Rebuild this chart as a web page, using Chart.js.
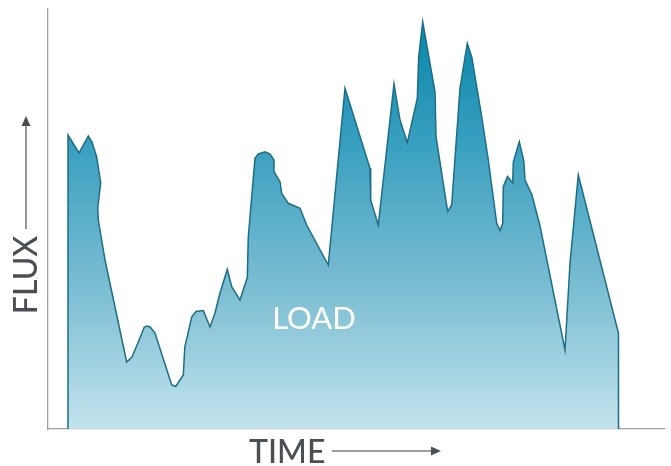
<!DOCTYPE html>
<html>
<head>
<meta charset="utf-8">
<script src="https://cdn.jsdelivr.net/npm/chart.js@4/dist/chart.umd.min.js"></script>
<style>
html,body{margin:0;padding:0;background:#fff;}
#wrap{position:relative;width:671px;height:466px;}
</style>
</head>
<body>
<div id="wrap"><canvas id="c" width="671" height="466"></canvas></div>
<script>
// time positions (arbitrary units) and flux values (arbitrary units)
const time = [20,20,31,40.3,44,48.7,52.7,49.7,50.3,57,78.7,84,90.3,96.3,99,102,107,123.7,127.7,135.3,136.8,143.7,148,155.3,162,167,172,179.3,183.7,192,199.3,200.3,207,210.3,217,222,226,226,232,233.7,240.3,252,258.7,280.3,297,322,322.7,330.3,346,352,359.3,369.3,370.7,374.7,387,388,399.7,403.7,412,419.3,423.7,433.7,440.3,448.7,452,454.7,455.3,459.5,464.7,465.3,471.3,475.8,477,484,492,517,522,530.3,570.5,570.5];
const flux = [0,294,276,293,287,272,246,221,209,169,67,72,87,102,103,102,96,44,42.5,54,82,112,117.5,118.5,102,116,136,159.7,142.3,129,151.5,192.3,270.7,275,277.3,275,269,257.3,247.3,235.7,225.7,220.7,204,164,340.7,260.7,228.8,204,345,309,286.3,330.7,372.3,407.3,337.3,292.3,217.3,224,341,385.7,372.3,312.3,269,205.7,198.5,205.7,242.3,252.5,246,267,287.3,268,249,234,203,79,165.7,254,95.7,0];
const xMin = 0, xMax = 616, yMin = 0, yMax = 420;
const seriesName = 'LOAD';
const xTitle = 'TIME';
const yTitle = 'FLUX';

const points = time.map((t,i)=>({x:t,y:flux[i]}));

const decor = {
  id:'decor',
  afterDatasetsDraw(chart){
    const ctx = chart.ctx;
    const xs = chart.scales.x, ys = chart.scales.y;
    ctx.save();
    ctx.fillStyle = '#ffffff';
    ctx.font = '400 31px Lato';
    ctx.textAlign = 'center';
    ctx.textBaseline = 'middle';
    ctx.fillText(seriesName, xs.getPixelForValue(266), ys.getPixelForValue(110));
    ctx.restore();
  },
  afterDraw(chart){
    const ctx = chart.ctx;
    ctx.save();
    ctx.fillStyle = '#4a4e55';
    ctx.strokeStyle = '#7a7d82';
    ctx.lineWidth = 1.6;
    ctx.font = '500 32px Lato';
    ctx.textAlign = 'left';
    ctx.textBaseline = 'alphabetic';
    ctx.fillText(xTitle, 249, 463);
    ctx.beginPath(); ctx.moveTo(332, 451); ctx.lineTo(432, 451); ctx.stroke();
    ctx.beginPath(); ctx.moveTo(441, 451); ctx.lineTo(431, 446.5); ctx.lineTo(431, 455.5); ctx.closePath(); ctx.fill();
    ctx.save();
    ctx.translate(37, 275);
    ctx.rotate(-Math.PI/2);
    ctx.textAlign = 'center';
    ctx.fillText(yTitle, 0, 0);
    ctx.restore();
    ctx.beginPath(); ctx.moveTo(26, 229); ctx.lineTo(26, 125); ctx.stroke();
    ctx.beginPath(); ctx.moveTo(26, 116); ctx.lineTo(21.5, 126); ctx.lineTo(30.5, 126); ctx.closePath(); ctx.fill();
    ctx.restore();
  }
};

new Chart(document.getElementById('c'), {
  type: 'line',
  data: {
    datasets: [{
      label: seriesName,
      data: points,
      borderColor: '#1d6d86',
      borderWidth: 1.5,
      pointRadius: 0,
      tension: 0,
      fill: 'origin',
      backgroundColor: (ctx) => {
        const ca = ctx.chart.chartArea;
        if (!ca) return '#5ab0c9';
        const g = ctx.chart.ctx.createLinearGradient(0, ca.top + 10, 0, ca.bottom);
        g.addColorStop(0, '#0785a8');
        g.addColorStop(0.3, '#389fbf');
        g.addColorStop(0.65, '#7abdd2');
        g.addColorStop(1, '#c2e3ec');
        return g;
      }
    }]
  },
  options: {
    responsive: false,
    animation: false,
    layout: { padding: { left: 48, right: 7, top: 9, bottom: 37 } },
    plugins: { legend: { display: false }, tooltip: { enabled: false } },
    scales: {
      x: {
        type: 'linear', min: xMin, max: xMax,
        grid: { display: false, drawTicks: false },
        ticks: { display: false },
        border: { display: true, color: '#a0a0a0', width: 1.3 }
      },
      y: {
        type: 'linear', min: yMin, max: yMax,
        grid: { display: false, drawTicks: false },
        ticks: { display: false },
        border: { display: true, color: '#a0a0a0', width: 1.3 }
      }
    }
  },
  plugins: [decor]
});
</script>
</body>
</html>
